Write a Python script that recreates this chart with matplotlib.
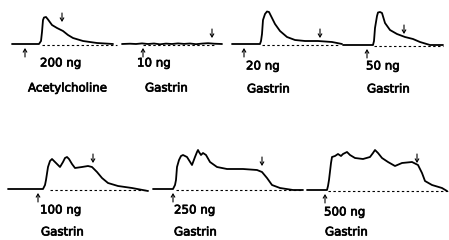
import matplotlib
matplotlib.use("Agg")
import matplotlib.pyplot as plt
import matplotlib.patheffects as pe

# ---- data: each trace as (time, response height) relative to panel start/baseline ----
doses = ["200 ng", "10 ng", "20 ng", "50 ng", "100 ng", "250 ng", "500 ng"]
agents = ["Acetylcholine", "Gastrin", "Gastrin", "Gastrin", "Gastrin", "Gastrin", "Gastrin"]

t_ach200 = [0, 27, 29, 30, 31, 32, 34, 36, 40, 45, 51, 56, 61, 71, 85, 101]
h_ach200 = [0, 0, 3, 12, 24, 26.5, 27, 24.5, 19, 16, 13, 9, 6, 3, 1, 0]

t_gas10 = [0, 8, 14, 20, 26, 32, 38, 44, 50, 56, 62, 68, 74, 80, 86, 92, 100]
h_gas10 = [0, 0.3, 0, 0.6, 0, 0.5, -0.3, 0.4, 0, 0.6, 0.1, 0.5, -0.2, 0.4, 0.8, 0.3, 0]

t_gas20 = [0, 28, 29, 30, 31, 33, 35, 37, 38, 43, 48, 55, 63, 73, 86, 100, 110]
h_gas20 = [0, 0, 3, 10, 24, 30, 32.5, 32, 30, 20, 13, 7, 4, 3, 3, 2, 0]

t_gas50 = [0, 30, 31, 32, 34, 35, 37, 39, 42, 47, 54, 62, 70, 77, 87, 100]
h_gas50 = [0, 0, 4, 17, 29, 32.5, 33, 32, 22, 15, 11, 8, 6, 3, 0, 0]

t_gas100 = [0, 35, 37, 38, 40, 42, 44, 47, 52, 55, 57, 59, 61, 64, 67, 74, 80, 84, 89, 94, 100, 110, 124, 140]
h_gas100 = [0, 0, 4, 9, 22, 28, 30, 27, 22, 27, 31, 32, 30, 25, 21, 22, 23, 22, 17, 11, 6, 3, 1, -2]

t_gas250 = [0, 20, 22, 23, 24, 26, 28, 30, 34, 39, 42, 44, 45, 46, 48, 50, 53, 57, 64, 74, 90, 104, 109, 114, 119, 127, 140, 150]
h_gas250 = [0, 0, 4, 9, 22, 29, 33, 34, 32, 24, 32, 37, 39, 37, 34, 36, 34, 27, 22, 20, 20, 19, 17, 11, 4, 1, -1, -1]

t_gas500 = [0, 20, 21, 22, 24, 25, 28, 31, 34, 36, 40, 43, 48, 56, 63, 66, 68, 71, 75, 81, 88, 95, 105, 111, 115, 118, 125, 135, 140]
h_gas500 = [0, 0, 4, 10, 27, 33, 34, 36, 34, 36, 38, 35, 32, 31, 33, 37, 40, 37, 32, 28, 24, 27, 28, 25, 17, 9, 5, 2, -1]

traces = [(t_ach200, h_ach200), (t_gas10, h_gas10), (t_gas20, h_gas20), (t_gas50, h_gas50),
          (t_gas100, h_gas100), (t_gas250, h_gas250), (t_gas500, h_gas500)]

# injection (up arrow) and stop (down arrow) times, relative to panel start
t_inject = [13, 21, 12, 24, 30, 20, 18]
t_stop = [50, 90, 88, 61, 85, 109, 110]
h_stop = [23, 7, 7, 12, 27, 24, 28]

# ---- layout (pixels) ----
panel_x0 = [12, 122, 232, 343, 8, 153, 307]
panel_base = [44, 44, 44, 45, 189, 189, 190]
dash_span = [(42, 117), (143, 215), (262, 340), (374, 443), (50, 148), (176, 303), (328, 448)]
dose_x = [40, 137, 246, 366, 40, 174, 324]
agent_x = [28, 145, 247, 367, 41, 174, 325]
dose_dy = [19, 19, 22, 21, 21, 21, 22]
agent_dy = [44, 44, 45, 44, 43, 43, 42]

W, H = 449, 240
fig = plt.figure(figsize=(W / 100, H / 100), dpi=100)
ax = fig.add_axes([0, 0, 1, 1])
ax.set_xlim(0, W)
ax.set_ylim(H, 0)
ax.axis("off")

thick = [pe.withStroke(linewidth=0.5, foreground="black")]
arrow_props = dict(arrowstyle="->,head_length=0.22,head_width=0.13", lw=0.8, color="black",
                   shrinkA=0, shrinkB=0)

for i, (t, h) in enumerate(traces):
    x0, yb = panel_x0[i], panel_base[i]
    xs = [x0 + v for v in t]
    ys = [yb - v for v in h]
    ax.plot(xs, ys, color="black", lw=1.3, solid_joinstyle="round", solid_capstyle="round")
    d0, d1 = dash_span[i]
    ax.plot([d0, d1], [yb + 0.5, yb + 0.5], color="black", lw=0.8, dashes=(2.2, 2.2))
    xi = x0 + t_inject[i]
    ax.annotate("", xy=(xi, yb + 4), xytext=(xi, yb + 13), arrowprops=arrow_props)
    xs_ = x0 + t_stop[i]
    ys_ = yb - h_stop[i]
    ax.annotate("", xy=(xs_, ys_ + 1), xytext=(xs_, ys_ - 8), arrowprops=arrow_props)
    ax.text(dose_x[i], yb + dose_dy[i], doses[i], fontsize=8.5, ha="left", va="center",
            family="DejaVu Sans", color="black", path_effects=thick)
    ax.text(agent_x[i], yb + agent_dy[i], agents[i], fontsize=8.5, ha="left", va="center",
            family="DejaVu Sans", color="black", path_effects=thick)

fig.savefig("out.png", dpi=100)
